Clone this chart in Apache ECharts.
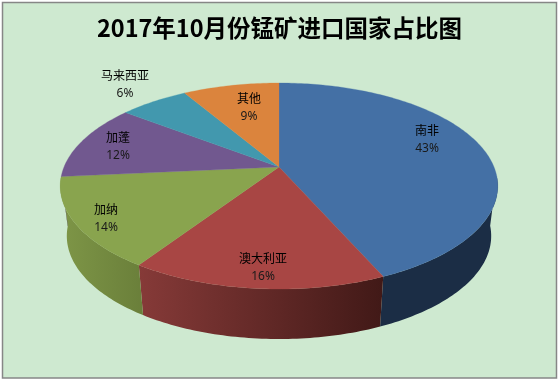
<!DOCTYPE html>
<html><head><meta charset="utf-8">
<style>html,body{margin:0;padding:0;background:#fff}#c{width:559px;height:381px}</style>
<script src="https://cdn.jsdelivr.net/npm/echarts@6/dist/echarts.min.js"></script>
</head><body><div id="c"></div>
<script>
const titleText = '2017年10月份锰矿进口国家占比图';
const categories = ['南非','澳大利亚','加纳','加蓬','马来西亚','其他'];
const shares = [43.4,15.9,14.2,11.9,6.1,8.5];

// styling and layout, separate from the data
const topColors = ['#4470A5','#A84644','#89A44E','#71588F','#4298AE','#DB843D'];
const wallStops = [['#1B2D45','#1B2D45'],['#863A38','#411917'],['#7E9647','#6A7F3A'],['#574370','#574370'],['#2F7283','#2F7283'],['#A5632D','#A5632D']];
const labelSpots = [[427,139],[263,267],[106,218],[118,146],[125,84],[249,107]];
const cx = 279, cy = 167, halfWidth = 215, liftA = 99.5, persp = 0.1845, depth = 50, shrink = 0.97;
const frontFrom = 95*Math.PI/180, frontTo = 265*Math.PI/180;

const total = shares.reduce((a,b)=>a+b,0);
function project(angle, r, low){
  const u = r*Math.sin(angle), v = r*Math.cos(angle), w = 1 + persp*v;
  let x = halfWidth*u/w, y = -liftA*v/w;
  if(low){ x *= shrink; y += depth; }
  return [cx+x, cy+y];
}
function sliceRange(i){
  let s = 0; for(let k=0;k<i;k++) s += shares[k];
  return [s/total*2*Math.PI, (s+shares[i])/total*2*Math.PI];
}
function arc(a0,a1,low){
  const n = Math.max(4, Math.ceil((a1-a0)/(Math.PI/180))), pts = [];
  for(let j=0;j<=n;j++) pts.push(project(a0+(a1-a0)*j/n,1,low));
  return pts;
}
function renderWall(params){
  const i = params.dataIndex, r = sliceRange(i);
  const a0 = Math.max(r[0],frontFrom), a1 = Math.min(r[1],frontTo);
  if(a1 <= a0) return null;
  const top = arc(a0,a1,false), bot = arc(a0,a1,true);
  return {type:'polygon', shape:{points: top.concat(bot.reverse())},
    style:{fill:new echarts.graphic.LinearGradient(0,0,1,0,[{offset:0,color:wallStops[i][0]},{offset:1,color:wallStops[i][1]}])}};
}
function renderTop(params){
  const i = params.dataIndex, r = sliceRange(i);
  return {type:'polygon', shape:{points:[[cx,cy]].concat(arc(r[0],r[1],false))},
    style:{fill:topColors[i], stroke:topColors[i], lineWidth:0.3}};
}
function renderLabel(params){
  const i = params.dataIndex, p = labelSpots[i];
  return {type:'group', children:[
    {type:'text', style:{x:p[0], y:p[1]-9, text:categories[i], fill:'#000', font:'12px "Noto Sans CJK SC"', align:'center', verticalAlign:'middle'}},
    {type:'text', style:{x:p[0], y:p[1]+10, text:Math.round(shares[i])+'%', fill:'#1a1a1a', font:'12px "Noto Sans", "Noto Sans CJK SC"', align:'center', verticalAlign:'middle'}}
  ]};
}
const rows = shares.map((v,i)=>[i,v]);
const chart = echarts.init(document.getElementById('c'), null, {renderer:'canvas'});
chart.setOption({
  animation:false,
  backgroundColor:'#fff',
  graphic:[{type:'rect', z:-1, shape:{x:2.5,y:2.5,width:554,height:375.5},
    style:{fill:'#CEE9D0', stroke:'#868686', lineWidth:1.5}}],
  title:{text:titleText, left:'center', top:13, padding:0, itemGap:0,
    textStyle:{fontFamily:'"Noto Sans CJK SC"', fontWeight:'bold', fontSize:23.5, color:'#000', lineHeight:30}},
  series:[
    {type:'custom', coordinateSystem:'none', silent:true, z:2, data:rows, renderItem:renderWall},
    {type:'custom', coordinateSystem:'none', silent:true, z:3, data:rows, renderItem:renderTop},
    {type:'custom', coordinateSystem:'none', silent:true, z:4, data:rows, renderItem:renderLabel}
  ]
});
</script></body></html>
